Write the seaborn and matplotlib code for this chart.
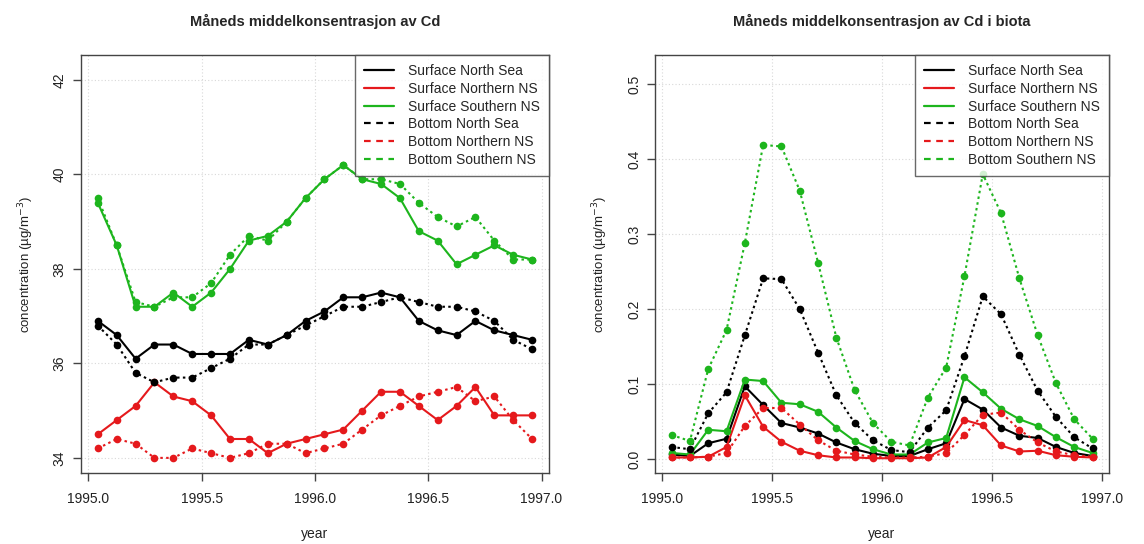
import numpy as np
import pandas as pd
import matplotlib
matplotlib.use("Agg")
import matplotlib.pyplot as plt
from matplotlib.lines import Line2D
import seaborn as sns

# Monthly mid-points, Jan 1995 .. Dec 1996
months = np.arange(24)
year = 1995 + (months + 0.5) / 12.0

series_names = ["Surface North Sea", "Surface Northern NS", "Surface Southern NS",
                "Bottom North Sea", "Bottom Northern NS", "Bottom Southern NS"]

# Dissolved Cd (left panel)
cd_surface_ns = [36.9, 36.6, 36.1, 36.4, 36.4, 36.2, 36.2, 36.2, 36.5, 36.4, 36.6, 36.9,
                 37.1, 37.4, 37.4, 37.5, 37.4, 36.9, 36.7, 36.6, 36.9, 36.7, 36.6, 36.5]
cd_surface_nns = [34.5, 34.8, 35.1, 35.6, 35.3, 35.2, 34.9, 34.4, 34.4, 34.1, 34.3, 34.4,
                  34.5, 34.6, 35.0, 35.4, 35.4, 35.1, 34.8, 35.1, 35.5, 34.9, 34.9, 34.9]
cd_surface_sns = [39.4, 38.5, 37.2, 37.2, 37.5, 37.2, 37.5, 38.0, 38.6, 38.7, 39.0, 39.5,
                  39.9, 40.2, 39.9, 39.8, 39.5, 38.8, 38.6, 38.1, 38.3, 38.5, 38.3, 38.2]
cd_bottom_ns = [36.8, 36.4, 35.8, 35.6, 35.7, 35.7, 35.9, 36.1, 36.4, 36.4, 36.6, 36.8,
                37.0, 37.2, 37.2, 37.3, 37.4, 37.3, 37.2, 37.2, 37.1, 36.9, 36.5, 36.3]
cd_bottom_nns = [34.2, 34.4, 34.3, 34.0, 34.0, 34.2, 34.1, 34.0, 34.1, 34.3, 34.3, 34.1,
                 34.2, 34.3, 34.6, 34.9, 35.1, 35.3, 35.4, 35.5, 35.2, 35.3, 34.8, 34.4]
cd_bottom_sns = [39.5, 38.5, 37.3, 37.2, 37.4, 37.4, 37.7, 38.3, 38.7, 38.6, 39.0, 39.5,
                 39.9, 40.2, 39.9, 39.9, 39.8, 39.4, 39.1, 38.9, 39.1, 38.6, 38.2, 38.2]

# Cd in biota (right panel)
bio_surface_ns = [0.006, 0.004, 0.021, 0.027, 0.097, 0.072, 0.048, 0.042, 0.034, 0.022, 0.013, 0.007,
                  0.004, 0.004, 0.013, 0.021, 0.080, 0.066, 0.042, 0.031, 0.028, 0.016, 0.008, 0.004]
bio_surface_nns = [0.002, 0.002, 0.003, 0.016, 0.085, 0.043, 0.023, 0.011, 0.005, 0.002, 0.002, 0.001,
                   0.001, 0.001, 0.002, 0.016, 0.052, 0.045, 0.018, 0.010, 0.011, 0.005, 0.003, 0.002]
bio_surface_sns = [0.008, 0.006, 0.039, 0.037, 0.106, 0.104, 0.075, 0.073, 0.063, 0.042, 0.024, 0.013,
                   0.006, 0.006, 0.022, 0.028, 0.109, 0.089, 0.067, 0.053, 0.044, 0.029, 0.016, 0.008]
bio_bottom_ns = [0.016, 0.013, 0.061, 0.089, 0.165, 0.241, 0.240, 0.200, 0.142, 0.085, 0.048, 0.025,
                 0.012, 0.009, 0.042, 0.065, 0.137, 0.217, 0.193, 0.139, 0.091, 0.056, 0.029, 0.014]
bio_bottom_nns = [0.002, 0.002, 0.003, 0.008, 0.044, 0.068, 0.068, 0.046, 0.025, 0.011, 0.006, 0.003,
                  0.002, 0.002, 0.003, 0.008, 0.032, 0.059, 0.062, 0.039, 0.022, 0.010, 0.005, 0.003]
bio_bottom_sns = [0.032, 0.024, 0.120, 0.172, 0.288, 0.419, 0.417, 0.358, 0.262, 0.162, 0.092, 0.048,
                  0.023, 0.018, 0.082, 0.122, 0.244, 0.380, 0.328, 0.241, 0.165, 0.101, 0.053, 0.027]

colors = ["#000000", "#E5191C", "#1DB51D"] * 2
styles = ["solid"] * 3 + ["dotted"] * 3

sns.set_theme(style="white")
plt.rcParams["font.family"] = ["Liberation Sans", "DejaVu Sans"]

fig = plt.figure(figsize=(11.44, 5.44), dpi=100)
ax1 = fig.add_axes([80.7 / 1144, 1 - 473 / 544, (549 - 80.7) / 1144, (473 - 55) / 544])
ax2 = fig.add_axes([655 / 1144, 1 - 473 / 544, (1109 - 655) / 1144, (473 - 55) / 544])


def draw_panel(ax, data, title, ylim, yticks, yticklabels):
    frame = pd.DataFrame({"year": np.tile(year, 6),
                          "value": np.concatenate([np.asarray(d, float) for d in data]),
                          "series": np.repeat(series_names, 24)})
    for name, col, ls in zip(series_names, colors, styles):
        sub = frame[frame["series"] == name]
        sns.lineplot(data=sub, x="year", y="value", ax=ax, color=col,
                     linestyle=ls, linewidth=1.5, marker="o", markersize=5.5,
                     markeredgewidth=0, legend=False, zorder=3)
        if ls == "dotted":
            ax.lines[-1].set_dashes((1.2, 1.6))
    ax.set_xlim(1994.966, 1997.033)
    ax.set_ylim(*ylim)
    ax.set_xticks([1995.0, 1995.5, 1996.0, 1996.5, 1997.0])
    ax.set_xticklabels(["1995.0", "1995.5", "1996.0", "1996.5", "1997.0"])
    ax.set_yticks(yticks)
    ax.set_yticklabels(yticklabels, rotation=90, va="center")
    ax.grid(True, color="#d8d8d8", linestyle=(0, (1, 2)), linewidth=0.8)
    ax.set_axisbelow(True)
    for s in ax.spines.values():
        s.set_color("#444444")
        s.set_linewidth(1.0)
    ax.tick_params(axis="both", direction="out", length=6, width=1.0, color="#444444",
                   labelsize=10, labelcolor="#222222", bottom=True, left=True)
    ax.tick_params(axis="x", pad=8)
    ax.tick_params(axis="y", pad=4)
    ax.set_xlabel("year", fontsize=10, color="#222222", labelpad=15)
    ax.set_ylabel("concentration (µg/m$^{-3}$)", fontsize=9.5, color="#222222", labelpad=12)
    ax.set_title(title, fontsize=10.5, fontweight="bold", pad=21)

    handles = [Line2D([0], [0], color=c, lw=1.6,
                      linestyle="-" if ls == "solid" else (0, (3, 2.5)))
               for c, ls in zip(colors, styles)]
    leg = ax.legend(handles, series_names, loc="upper right", bbox_to_anchor=(1.0, 1.0),
                    fontsize=10, frameon=True, fancybox=False, borderaxespad=0,
                    handlelength=2.2, handletextpad=1.0, labelspacing=0.27,
                    borderpad=0.65)
    leg.get_frame().set_edgecolor("#444444")
    leg.get_frame().set_linewidth(1.0)
    leg.set_zorder(5)


draw_panel(ax1, [cd_surface_ns, cd_surface_nns, cd_surface_sns,
                 cd_bottom_ns, cd_bottom_nns, cd_bottom_sns],
           "Måneds middelkonsentrasjon av Cd", (33.68, 42.53),
           [34, 36, 38, 40, 42], ["34", "36", "38", "40", "42"])
draw_panel(ax2, [bio_surface_ns, bio_surface_nns, bio_surface_sns,
                 bio_bottom_ns, bio_bottom_nns, bio_bottom_sns],
           "Måneds middelkonsentrasjon av Cd i biota", (-0.0187, 0.539),
           [0.0, 0.1, 0.2, 0.3, 0.4, 0.5], ["0.0", "0.1", "0.2", "0.3", "0.4", "0.5"])

fig.savefig("out.png", dpi=100, facecolor="white")
